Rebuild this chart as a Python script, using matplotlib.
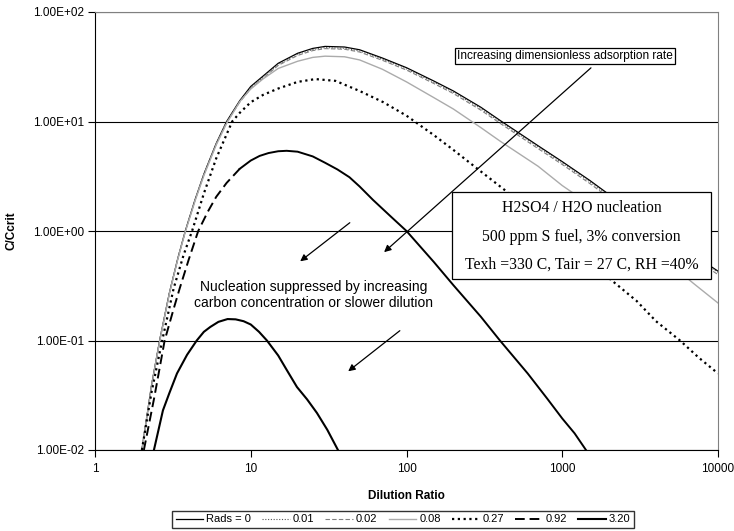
"""
 C/Ccrit against dilution ratio for several dimensionless adsorption rates.
"""

import matplotlib
matplotlib.use('Agg')
import matplotlib.pyplot as plt
from matplotlib.patches import Rectangle
from matplotlib.ticker import FuncFormatter, FixedLocator, NullLocator

plt.rcParams['font.family'] = ['Liberation Sans', 'DejaVu Sans']

# Values
dr_0 = [2.0, 2.3, 2.6, 3.0, 3.4, 3.8, 4.4, 5.0, 6.0, 7.0, 8.5, 10, 12, 15, 20, 25, 30, 40, 50, 70,
        100, 150, 200, 300, 400, 700, 1000, 1500, 2000, 3000, 5000, 7000, 10000]
cc_0 = [0.01, 0.038, 0.1, 0.27, 0.56, 1.0, 1.95, 3.3, 6.3, 10, 15.5, 20.9, 26, 34, 42, 46.5, 48.5, 47.9, 45.2, 38,
        31, 23.4, 19, 13.5, 10.2, 6.0, 4.3, 2.9, 2.15, 1.41, 0.85, 0.6, 0.43]
cc_001 = [0.01, 0.038, 0.1, 0.27, 0.56, 1.0, 1.95, 3.3, 6.25, 9.9, 15.2, 20.4, 25.4, 33.2, 41, 45.4, 47.3, 46.7, 44.1, 37,
          30.2, 22.8, 18.5, 13.1, 9.9, 5.85, 4.18, 2.82, 2.09, 1.37, 0.83, 0.58, 0.42]
cc_002 = [0.01, 0.038, 0.1, 0.27, 0.56, 1.0, 1.94, 3.28, 6.2, 9.8, 15.0, 20.0, 24.8, 32.5, 40.1, 44.4, 46.3, 45.7, 43.1, 36.2,
          29.5, 22.2, 18.0, 12.7, 9.6, 5.65, 4.05, 2.72, 2.01, 1.32, 0.79, 0.56, 0.40]
cc_008 = [0.01, 0.037, 0.098, 0.265, 0.55, 0.98, 1.9, 3.2, 6.1, 9.6, 15.2, 19.8, 24.5, 30.5, 35.5, 38.5, 39.5, 39, 36.5, 30,
          23, 16.5, 13, 8.8, 6.6, 3.9, 2.6, 1.75, 1.3, 0.86, 0.49, 0.33, 0.22]

dr_027 = [2.0, 2.3, 2.7, 3.2, 3.7, 4.2, 5.0, 6.0, 7.6, 8.5, 10, 12, 15, 20, 26, 35, 50, 71, 100, 150,
          200, 300, 430, 700, 1000, 1500, 2000, 3000, 4000, 5700, 7500, 10000]
cc_027 = [0.01, 0.033, 0.1, 0.3, 0.6, 1.0, 2.2, 4.6, 10, 12, 15, 17.5, 20, 23, 24.4, 23.5, 19, 15, 11.3, 7.5,
          5.5, 3.5, 2.35, 1.3, 0.84, 0.54, 0.37, 0.23, 0.15, 0.1, 0.07, 0.05]

dr_092 = [2.06, 2.4, 2.8, 3.2, 3.5, 4.0, 4.6, 5.3, 6.0, 7.0, 8.5, 10, 11.4, 13, 15, 17, 20, 25, 30, 36,
          43, 50, 61, 80, 100, 150, 200, 300, 398, 600, 800, 1000, 1200, 1420]
cc_092 = [0.01, 0.03, 0.1, 0.195, 0.3, 0.55, 1.0, 1.5, 2.05, 2.75, 3.7, 4.4, 4.85, 5.15, 5.35, 5.4, 5.3, 4.8, 4.2, 3.65,
          3.1, 2.55, 1.92, 1.34, 1.0, 0.52, 0.32, 0.165, 0.1, 0.05, 0.0295, 0.0194, 0.0142, 0.01]

dr_320 = [2.39, 2.55, 2.73, 3.0, 3.36, 3.9, 4.5, 5.0, 5.5, 6.2, 7.1, 8.0, 9.0, 10, 11.3, 12.7, 15, 17,
          19.8, 23, 26.6, 31, 36.3]
cc_320 = [0.01, 0.015, 0.023, 0.033, 0.05, 0.074, 0.1, 0.12, 0.133, 0.148, 0.157, 0.156, 0.15, 0.14, 0.12, 0.1, 0.073, 0.054,
          0.0376, 0.029, 0.0218, 0.0153, 0.01]

legend_labels = ['Rads = 0', '0.01', '0.02', '0.08', '0.27', '0.92', '3.20']
y_ticks = [0.01, 0.1, 1, 10, 100]
x_ticks = [1, 10, 100, 1000, 10000]

fig = plt.figure(figsize=(7.34, 5.31), dpi=100)
ax = fig.add_axes([95/734, 1 - 450/531, 623/734, 438/531])

lines = []
lines += ax.plot(dr_0, cc_0, color='black', lw=0.9)
lines += ax.plot(dr_0, cc_001, color='#555555', lw=0.8, linestyle=(0, (1, 1.5)))
lines += ax.plot(dr_0, cc_002, color='#808080', lw=0.8, linestyle=(0, (4, 2)))
lines += ax.plot(dr_0, cc_008, color='#ababab', lw=1.0)
lines += ax.plot(dr_027, cc_027, color='black', lw=1.6, linestyle=(0, (1, 1.6)))
# 0.92 looks dashed on the rising side and solid where the points get dense
lines += ax.plot(dr_092[:11], cc_092[:11], color='black', lw=1.4, linestyle=(0, (5, 2.5)))
ax.plot(dr_092[10:], cc_092[10:], color='black', lw=1.4)
lines += ax.plot(dr_320, cc_320, color='black', lw=1.5)

ax.set_xscale('log')
ax.set_yscale('log')
ax.set_xlim(1, 10000)
ax.set_ylim(0.01, 100)

ax.xaxis.set_major_locator(FixedLocator(x_ticks))
ax.yaxis.set_major_locator(FixedLocator(y_ticks))
ax.xaxis.set_minor_locator(NullLocator())
ax.yaxis.set_minor_locator(NullLocator())
ax.xaxis.set_major_formatter(FuncFormatter(lambda v, p: '%g' % v))
ax.yaxis.set_major_formatter(FuncFormatter(lambda v, p: '%.2E' % v))
ax.tick_params(axis='both', direction='out', length=5, width=0.8, labelsize=8.5, colors='black')
ax.tick_params(axis='y', pad=3)
ax.tick_params(axis='x', pad=4)

ax.grid(True, axis='y', color='black', lw=0.8)
ax.set_axisbelow(True)
for side in ['top', 'right']:
    ax.spines[side].set_color('#808080')
for side in ['left', 'bottom']:
    ax.spines[side].set_color('black')

ax.set_xlabel('Dilution Ratio', fontsize=8.5, fontweight='bold')
ax.set_ylabel('C/Ccrit', fontsize=8.5, fontweight='bold')
ax.xaxis.set_label_coords(0.5, -0.0913)
ax.yaxis.set_label_coords(-0.1236, 0.5)

# Annotations
ax.text(0.7544, 0.8995, 'Increasing dimensionless adsorption rate', transform=ax.transAxes,
        ha='center', va='center', fontsize=8.6, zorder=6,
        bbox=dict(boxstyle='square,pad=0.15', fc='white', ec='black', lw=0.9))
ax.annotate('', xy=(0.4607, 0.4475), xytext=(0.7994, 0.8767), xycoords='axes fraction',
            arrowprops=dict(arrowstyle='-|>', color='black', lw=0.9, mutation_scale=10), zorder=6)

ax.text(0.3515, 0.3539, 'Nucleation suppressed by increasing\ncarbon concentration or slower dilution',
        transform=ax.transAxes, ha='center', va='center', fontsize=10, linespacing=1.25, zorder=6)
ax.annotate('', xy=(0.3258, 0.4269), xytext=(0.4125, 0.5228), xycoords='axes fraction',
            arrowprops=dict(arrowstyle='-|>', color='black', lw=0.9, mutation_scale=10), zorder=6)
ax.annotate('', xy=(0.4029, 0.1758), xytext=(0.4928, 0.2763), xycoords='axes fraction',
            arrowprops=dict(arrowstyle='-|>', color='black', lw=0.9, mutation_scale=10), zorder=6)

ax.add_patch(Rectangle((0.5730, 0.3904), 0.4158, 0.1986, transform=ax.transAxes,
                       fc='white', ec='black', lw=0.9, zorder=7, clip_on=False))
box_lines = ['H2SO4 / H2O nucleation', '500 ppm S fuel, 3% conversion', 'Texh =330 C, Tair = 27 C, RH =40%']
for txt, yy in zip(box_lines, [0.5525, 0.4863, 0.4224]):
    ax.text(0.781, yy, txt, transform=ax.transAxes, ha='center', va='center',
            fontsize=11.3, family='Liberation Serif', zorder=8)

leg = fig.legend(lines, legend_labels, loc='center', bbox_to_anchor=(403/734, 1 - 519.5/531),
                 ncol=7, fontsize=8, frameon=True, fancybox=False, handlelength=2.5,
                 handletextpad=0.25, columnspacing=1.0, borderpad=0.3, borderaxespad=0)
leg.get_frame().set_edgecolor('black')
leg.get_frame().set_linewidth(1.0)

plt.savefig('out.png', dpi=100)
